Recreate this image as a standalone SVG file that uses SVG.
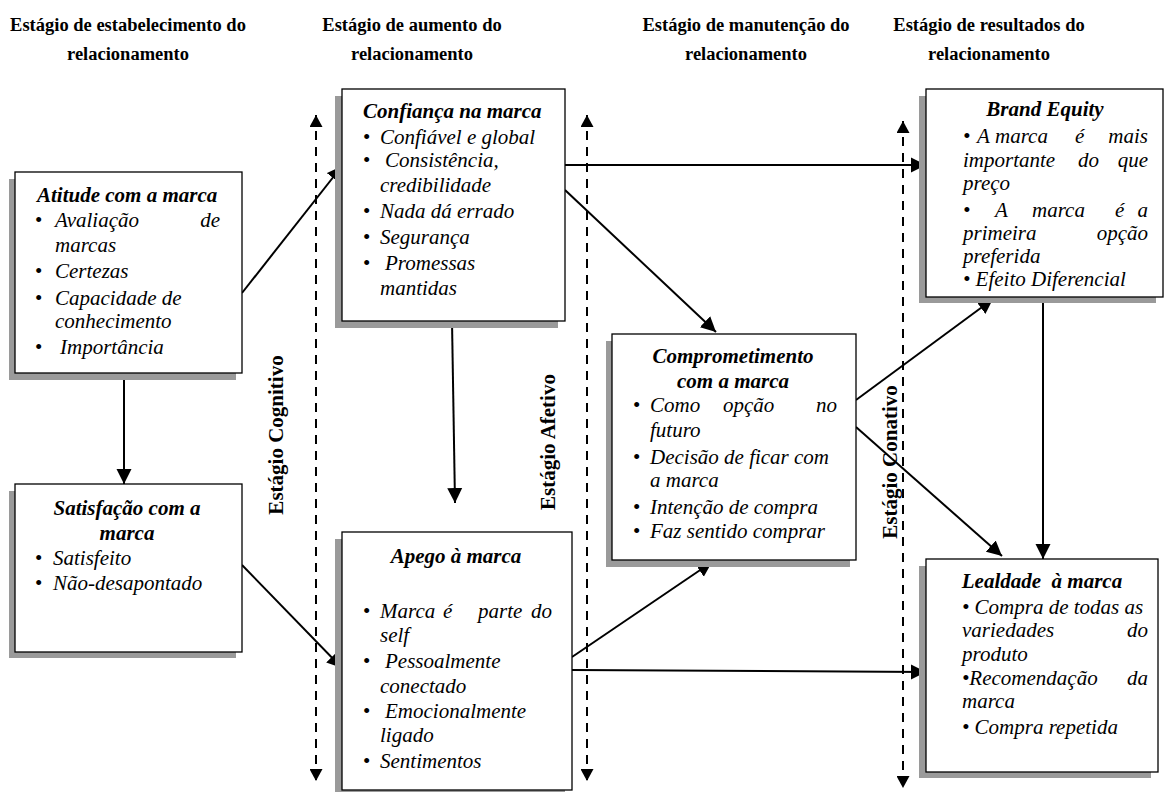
<svg xmlns="http://www.w3.org/2000/svg" width="1165" height="792" viewBox="0 0 1165 792">
  <style>
    text { font-family: "Liberation Serif", "Times New Roman", serif; fill: #000; }
    .hd { font-size: 18.5px; font-weight: bold; text-anchor: middle; }
    .tt { font-size: 21px; font-weight: bold; font-style: italic; }
    .it { font-size: 21px; font-style: italic; }
    .bl { font-size: 21px; }
    .st { font-size: 21px; font-weight: bold; text-anchor: middle; }
    .mid { text-anchor: middle; }
    .end { text-anchor: end; }
    .shadow { fill: #9a9a9a; }
    .box { fill: #fff; stroke: #000; stroke-width: 1.3; }
    .con { stroke: #000; stroke-width: 2; fill: none; marker-end: url(#arrow); }
    .stage { stroke: #000; stroke-width: 2; fill: none; stroke-dasharray: 9 7; marker-start: url(#tipS); marker-end: url(#tipE); }
  </style>
  <defs>
    <marker id="arrow" markerUnits="userSpaceOnUse" viewBox="0 0 16 16" markerWidth="16" markerHeight="16" refX="15" refY="8" orient="auto">
      <path d="M0,0.5 L15,8 L0,15.5 z" fill="#000"/>
    </marker>
    <marker id="tipE" markerUnits="userSpaceOnUse" viewBox="0 0 13 13" markerWidth="13" markerHeight="13" refX="12" refY="6.5" orient="auto">
      <path d="M0,0 L12,6.5 L0,13 z" fill="#000"/>
    </marker>
    <marker id="tipS" markerUnits="userSpaceOnUse" viewBox="0 0 13 13" markerWidth="13" markerHeight="13" refX="1" refY="6.5" orient="auto">
      <path d="M13,0 L1,6.5 L13,13 z" fill="#000"/>
    </marker>
  </defs>

  <!-- column headers -->
  <g id="headers">
    <text class="hd" x="128" y="31">Estágio de estabelecimento do</text>
    <text class="hd" x="128" y="60">relacionamento</text>
    <text class="hd" x="412" y="31">Estágio de aumento do</text>
    <text class="hd" x="412" y="60">relacionamento</text>
    <text class="hd" x="746" y="31">Estágio de manutenção do</text>
    <text class="hd" x="746" y="60">relacionamento</text>
    <text class="hd" x="989" y="31">Estágio de resultados do</text>
    <text class="hd" x="989" y="60">relacionamento</text>
  </g>

  <!-- stage dividers -->
  <g id="stages">
    <line class="stage" x1="316" y1="115" x2="316" y2="781"/>
    <line class="stage" x1="587" y1="115" x2="587" y2="781"/>
    <line class="stage" x1="903" y1="121" x2="903" y2="788"/>
    <text class="st" transform="translate(283,435) rotate(-90)">Estágio Cognitivo</text>
    <text class="st" transform="translate(555,442) rotate(-90)">Estágio Afetivo</text>
    <text class="st" transform="translate(897,462) rotate(-90)">Estágio Conativo</text>
  </g>

  <!-- connectors -->
  <g id="connectors">
    <line class="con" x1="242" y1="293" x2="342" y2="166"/>
    <line class="con" x1="124" y1="373" x2="124" y2="484"/>
    <line class="con" x1="242" y1="565" x2="342" y2="668"/>
    <line class="con" x1="452" y1="321" x2="455" y2="503"/>
    <line class="con" x1="565" y1="165" x2="926" y2="165"/>
    <line class="con" x1="565" y1="190" x2="716" y2="332"/>
    <line class="con" x1="572" y1="657" x2="712" y2="562"/>
    <line class="con" x1="572" y1="670" x2="926" y2="672"/>
    <line class="con" x1="856" y1="400" x2="993" y2="299"/>
    <line class="con" x1="856" y1="427" x2="1002" y2="556"/>
    <line class="con" x1="1043" y1="297" x2="1043" y2="559"/>
  </g>

  <!-- Atitude com a marca -->
  <g id="atitude">
    <rect class="shadow" x="9" y="179" width="227" height="201"/>
    <rect class="box" x="15" y="172" width="227" height="201"/>
    <text class="tt" x="37" y="202">Atitude com a marca</text>
    <text class="bl" x="35" y="227">•</text><text class="it" x="55" y="227">Avaliação</text><text class="it end" x="220" y="227">de</text>
    <text class="it" x="55" y="252">marcas</text>
    <text class="bl" x="35" y="278">•</text><text class="it" x="55" y="278">Certezas</text>
    <text class="bl" x="35" y="305">•</text><text class="it" x="55" y="305">Capacidade de</text>
    <text class="it" x="55" y="328">conhecimento</text>
    <text class="bl" x="35" y="354">•</text><text class="it" x="60" y="354">Importância</text>
  </g>

  <!-- Satisfação com a marca -->
  <g id="satisfacao">
    <rect class="shadow" x="9" y="491" width="227" height="167"/>
    <rect class="box" x="15" y="484" width="227" height="168"/>
    <text class="tt mid" x="127" y="515">Satisfação com a</text>
    <text class="tt mid" x="127" y="540">marca</text>
    <text class="bl" x="35" y="565">•</text><text class="it" x="53" y="565">Satisfeito</text>
    <text class="bl" x="35" y="590">•</text><text class="it" x="53" y="590">Não-desapontado</text>
  </g>

  <!-- Confiança na marca -->
  <g id="confianca">
    <rect class="shadow" x="335" y="96" width="223" height="232"/>
    <rect class="box" x="342" y="89" width="223" height="232"/>
    <text class="tt" x="363" y="118">Confiança na marca</text>
    <text class="bl" x="363" y="144">•</text><text class="it" x="380" y="144">Confiável e global</text>
    <text class="bl" x="363" y="167">•</text><text class="it" x="385" y="167">Consistência,</text>
    <text class="it" x="380" y="192">credibilidade</text>
    <text class="bl" x="363" y="218">•</text><text class="it" x="380" y="218">Nada dá errado</text>
    <text class="bl" x="363" y="244">•</text><text class="it" x="380" y="244">Segurança</text>
    <text class="bl" x="363" y="270">•</text><text class="it" x="385" y="270">Promessas</text>
    <text class="it" x="380" y="295">mantidas</text>
  </g>

  <!-- Apego à marca -->
  <g id="apego">
    <rect class="shadow" x="335" y="539" width="230" height="260"/>
    <rect class="box" x="342" y="532" width="230" height="258"/>
    <text class="tt mid" x="456" y="563">Apego à marca</text>
    <text class="bl" x="363" y="618">•</text><text class="it" x="380" y="618">Marca</text><text class="it" x="443" y="618">é</text><text class="it" x="478" y="618">parte</text><text class="it end" x="552" y="618">do</text>
    <text class="it" x="380" y="642">self</text>
    <text class="bl" x="363" y="668">•</text><text class="it" x="385" y="668">Pessoalmente</text>
    <text class="it" x="380" y="693">conectado</text>
    <text class="bl" x="363" y="718">•</text><text class="it" x="385" y="718">Emocionalmente</text>
    <text class="it" x="380" y="742">ligado</text>
    <text class="bl" x="363" y="768">•</text><text class="it" x="380" y="768">Sentimentos</text>
  </g>

  <!-- Comprometimento com a marca -->
  <g id="comprometimento">
    <rect class="shadow" x="606" y="341" width="244" height="226"/>
    <rect class="box" x="612" y="334" width="244" height="226"/>
    <text class="tt mid" x="733" y="363">Comprometimento</text>
    <text class="tt mid" x="733" y="388">com a marca</text>
    <text class="bl" x="633" y="412">•</text><text class="it" x="650" y="412">Como</text><text class="it" x="723" y="412">opção</text><text class="it end" x="837" y="412">no</text>
    <text class="it" x="650" y="437">futuro</text>
    <text class="bl" x="633" y="464">•</text><text class="it" x="650" y="464">Decisão de ficar com</text>
    <text class="it" x="650" y="487">a marca</text>
    <text class="bl" x="633" y="514">•</text><text class="it" x="650" y="514">Intenção de compra</text>
    <text class="bl" x="633" y="538">•</text><text class="it" x="650" y="538">Faz sentido comprar</text>
  </g>

  <!-- Brand Equity -->
  <g id="brand-equity">
    <rect class="shadow" x="919" y="96" width="237" height="207"/>
    <rect class="box" x="926" y="89" width="237" height="208"/>
    <text class="tt mid" x="1045" y="116">Brand Equity</text>
    <text class="it" x="963" y="143">•</text><text class="it" x="977" y="143">A</text><text class="it" x="995" y="143">marca</text><text class="it" x="1075" y="143">é</text><text class="it end" x="1148" y="143">mais</text>
    <text class="it" x="963" y="167">importante</text><text class="it" x="1078" y="167">do</text><text class="it end" x="1148" y="167">que</text>
    <text class="it" x="963" y="190">preço</text>
    <text class="it" x="963" y="217">•</text><text class="it" x="995" y="217">A</text><text class="it" x="1032" y="217">marca</text><text class="it" x="1115" y="217">é</text><text class="it end" x="1148" y="217">a</text>
    <text class="it" x="963" y="240">primeira</text><text class="it end" x="1148" y="240">opção</text>
    <text class="it" x="963" y="263">preferida</text>
    <text class="it" x="963" y="286">• Efeito Diferencial</text>
  </g>

  <!-- Lealdade à marca -->
  <g id="lealdade">
    <rect class="shadow" x="919" y="566" width="232" height="212"/>
    <rect class="box" x="926" y="559" width="232" height="213"/>
    <text class="tt mid" x="1042" y="588">Lealdade&#160; à marca</text>
    <text class="it" x="962" y="614">• Compra de todas as</text>
    <text class="it" x="962" y="637">variedades</text><text class="it end" x="1148" y="637">do</text>
    <text class="it" x="962" y="661">produto</text>
    <text class="it" x="962" y="685">•Recomendação</text><text class="it end" x="1148" y="685">da</text>
    <text class="it" x="962" y="708">marca</text>
    <text class="it" x="962" y="734">• Compra repetida</text>
  </g>
</svg>
